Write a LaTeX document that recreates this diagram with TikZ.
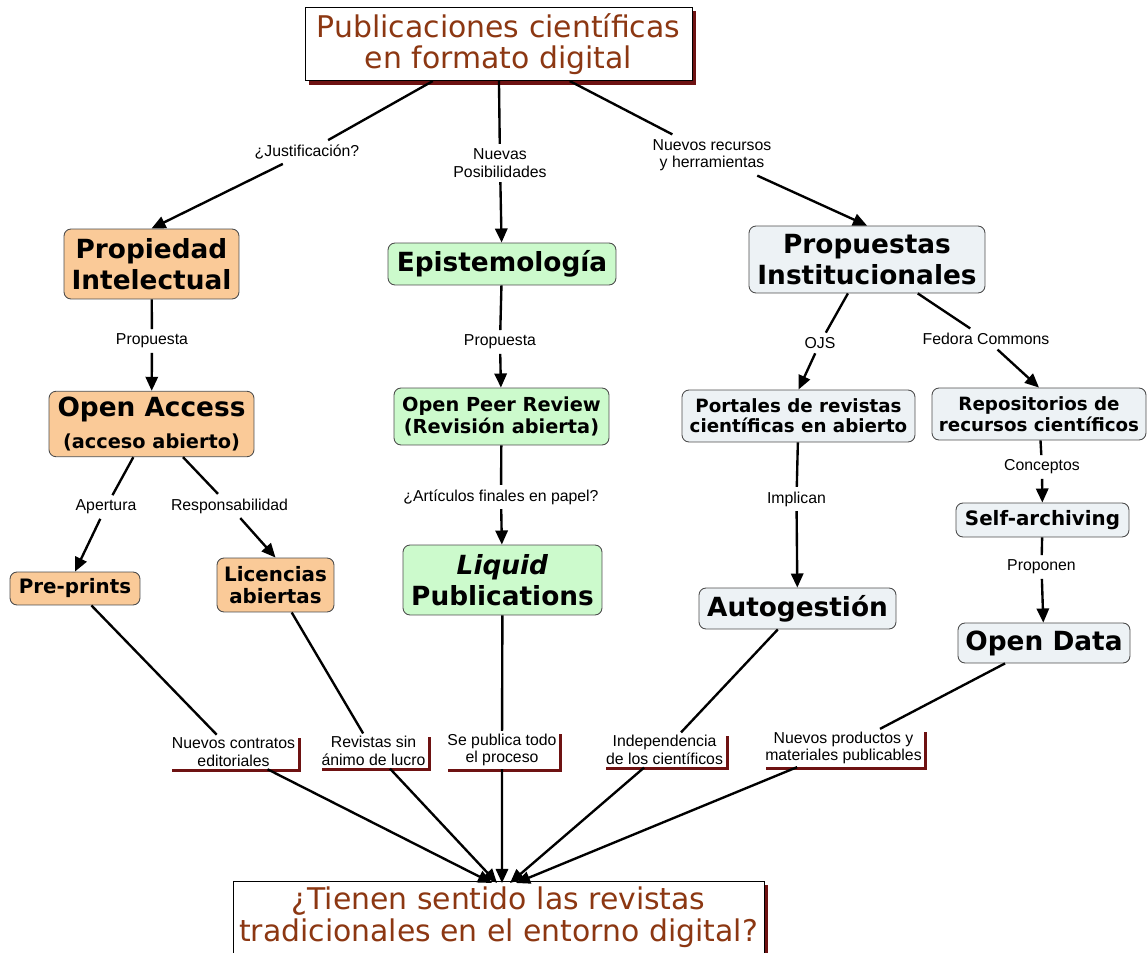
\documentclass[tikz,border=0pt]{standalone}
\usepackage{fontspec}
\setmainfont{DejaVu Sans}
\newfontfamily\enlacefont{Liberation Sans}
\usetikzlibrary{arrows.meta,shadows}

\definecolor{naranja}{RGB}{250,202,152}
\definecolor{verde}{RGB}{204,250,204}
\definecolor{azulado}{RGB}{237,242,245}
\definecolor{sombra}{RGB}{110,18,18}
\definecolor{marron}{RGB}{140,55,18}

\begin{document}
\begin{tikzpicture}[x=0.02cm,y=-0.02cm,
  titulo/.style={draw=black,line width=0.4pt,fill=white,align=center,text=marron,
    font=\fontsize{17}{18}\selectfont,
    drop shadow={shadow xshift=2.2pt,shadow yshift=-2.2pt,fill=sombra,opacity=1}},
  concepto/.style={draw=black!70,line width=0.5pt,rounded corners=4pt,align=center,
    font=\bfseries\fontsize{15}{18}\selectfont},
  ip/.style={concepto,fill=naranja},
  epi/.style={concepto,fill=verde},
  inst/.style={concepto,fill=azulado},
  chico/.style={font=\bfseries\fontsize{11.3}{12.5}\selectfont},
  enlace/.style={font=\enlacefont\fontsize{9}{10}\selectfont,align=center,inner sep=2.5pt},
  frase/.style={enlace,fill=white,inner sep=1.5pt,
    drop shadow={shadow xshift=1.7pt,shadow yshift=-1.7pt,fill=sombra,opacity=1}},
  linea/.style={line width=1.35pt},
  flecha/.style={linea,-{Triangle[length=8pt,width=7pt]}}]
  \useasboundingbox (0,0) rectangle (1147,953);

  % conceptos
  \node[titulo,minimum width=7.74cm,minimum height=1.36cm] (top) at (498.5,44) {Publicaciones científicas\\en formato digital};
  \node[ip,minimum width=3.5cm,minimum height=1.4cm] (prop) at (151.5,264) {Propiedad\\Intelectual};
  \node[ip,minimum width=4.1cm,minimum height=1.28cm] (oa) at (151.5,424) {Open Access\\{\fontsize{11}{13}\selectfont(acceso abierto)}};
  \node[ip,chico,minimum width=2.6cm,minimum height=0.66cm] (pre) at (75,588.5) {Pre-prints};
  \node[ip,chico,minimum width=2.34cm,minimum height=1.08cm] (lic) at (275.5,585) {Licencias\\abiertas};
  \node[epi,minimum width=4.56cm,minimum height=0.84cm] (epis) at (502,264) {Epistemología};
  \node[epi,font=\bfseries\fontsize{11}{13}\selectfont,minimum width=4.3cm,minimum height=1.14cm] (opr) at (501.5,416.5) {Open Peer Review\\(Revisión abierta)};
  \node[epi,minimum width=3.98cm,minimum height=1.4cm] (liq) at (502.5,580) {\textit{Liquid}\\Publications};
  \node[inst,minimum width=4.72cm,minimum height=1.34cm] (prop2) at (867,259.5) {Propuestas\\Institucionales};
  \node[inst,font=\bfseries\fontsize{10.4}{11.5}\selectfont,minimum width=4.66cm,minimum height=1.04cm] (port) at (798.5,416) {Portales de revistas\\científicas en abierto};
  \node[inst,font=\bfseries\fontsize{10.4}{12}\selectfont,minimum width=4.28cm,minimum height=1.04cm] (repo) at (1039,414) {Repositorios de\\recursos científicos};
  \node[inst,chico,minimum width=3.46cm,minimum height=0.68cm] (self) at (1042.5,520) {Self-archiving};
  \node[inst,minimum width=3.94cm,minimum height=0.82cm] (auto) at (797.5,608.5) {Autogestión};
  \node[inst,minimum width=3.44cm,minimum height=0.8cm] (odata) at (1044,643) {Open Data};
  \node[titulo,minimum width=10.62cm,minimum height=1.38cm] (bot) at (498.5,917.5) {¿Tienen sentido las revistas\\tradicionales en el entorno digital?};

  % frases de enlace
  \node[enlace] (just) at (307,152) {¿Justificación?};
  \node[enlace] (posib) at (500,163) {Nuevas\\Posibilidades};
  \node[enlace] (recur) at (712,155) {Nuevos recursos\\y herramientas};
  \node[enlace] (prop1) at (152,341) {Propuesta};
  \node[enlace] (prop3) at (500,342) {Propuesta};
  \node[enlace] (papel) at (501,497) {¿Artículos finales en papel?};
  \node[enlace] (apert) at (106,507) {Apertura};
  \node[enlace] (resp) at (229.5,506) {Responsabilidad};
  \node[enlace] (ojs) at (820,343) {OJS};
  \node[enlace] (fedora) at (986,339) {Fedora Commons};
  \node[enlace] (impl) at (796.5,499) {Implican};
  \node[enlace] (conc) at (1042,467) {Conceptos};
  \node[enlace] (propo) at (1041.5,567) {Proponen};

  \node[frase] (contr) at (233.5,752) {Nuevos contratos\\editoriales};
  \node[frase] (lucro) at (373.5,751) {Revistas sin\\ánimo de lucro};
  \node[frase] (proc) at (502,750) {Se publica todo\\el proceso};
  \node[frase] (indep) at (664.5,750) {Independencia\\de los científicos};
  \node[frase] (mater) at (843.5,748) {Nuevos productos y\\materiales publicables};

  \coordinate (t1) at (492,883);
  \coordinate (t2) at (497,883);
  \coordinate (t3) at (502,883);
  \coordinate (t4) at (510,883);
  \coordinate (t5) at (516,883);

  % conexiones
  \draw[flecha] (top) -- (just) -- (prop.north);
  \draw[flecha] (top) -- (posib) -- (epis);
  \draw[flecha] (top) -- (recur) -- (prop2.north);
  \draw[flecha] (prop) -- (prop1) -- (oa);
  \draw[flecha] (oa) -- (apert) -- (pre.north);
  \draw[flecha] (oa) -- (resp) -- (lic.north);
  \draw[flecha] (epis) -- (prop3) -- (opr);
  \draw[flecha] (opr) -- (papel) -- (liq);
  \draw[flecha] (prop2) -- (ojs) -- (port.north);
  \draw[flecha] (prop2) -- (fedora) -- (repo.north);
  \draw[flecha] (port) -- (impl) -- (auto);
  \draw[flecha] (repo) -- (conc) -- (self);
  \draw[flecha] (self) -- (propo) -- (odata);
  \draw[flecha] (pre) -- (contr) -- (t1);
  \draw[flecha] (lic) -- (lucro) -- (t2);
  \draw[flecha] (liq) -- (proc) -- (t3);
  \draw[flecha] (auto) -- (indep) -- (t4);
  \draw[flecha] (odata) -- (mater) -- (t5);
\end{tikzpicture}
\end{document}
